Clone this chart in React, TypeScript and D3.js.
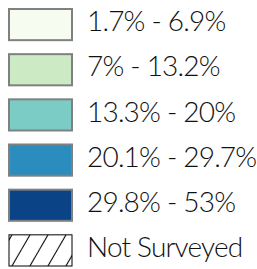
import React, { useEffect, useRef } from 'react';
import * as d3 from 'd3';

const labels = ['1.7% - 6.9%', '7% - 13.2%', '13.3% - 20%', '20.1% - 29.7%', '29.8% - 53%', 'Not Surveyed'];
const colors = ['#f7fcf0', '#ccebc5', '#7bccc4', '#2b8cbe', '#0b4387', 'url(#hatch)'];

const Legend = () => {
  const svgRef = useRef<SVGSVGElement>(null);

  useEffect(() => {
    const width = 257;
    const height = 269;
    const svg = d3.select(svgRef.current).attr('width', width).attr('height', height);
    svg.selectAll('*').remove();

    // hatch pattern for "Not Surveyed"
    const pat = svg.append('defs').append('pattern')
      .attr('id', 'hatch')
      .attr('patternUnits', 'userSpaceOnUse')
      .attr('width', 18)
      .attr('height', 31)
      .attr('x', 3)
      .attr('y', 0);
    pat.append('rect').attr('width', 18).attr('height', 31).attr('fill', '#fff');
    pat.append('line')
      .attr('x1', -9).attr('y1', 31).attr('x2', 9).attr('y2', 0)
      .attr('stroke', '#000').attr('stroke-width', 1.1);
    pat.append('line')
      .attr('x1', 9).attr('y1', 31).attr('x2', 27).attr('y2', 0)
      .attr('stroke', '#000').attr('stroke-width', 1.1);

    const y = d3.scaleBand<string>()
      .domain(labels)
      .range([9, 266])
      .paddingInner(0.31)
      .paddingOuter(0);

    const rows = svg.selectAll('g.row')
      .data(labels)
      .enter().append('g')
      .attr('class', 'row')
      .attr('transform', d => `translate(0, ${y(d)})`);

    rows.append('rect')
      .attr('x', 9)
      .attr('y', 0)
      .attr('width', 63)
      .attr('height', y.bandwidth())
      .attr('fill', (d, i) => colors[i])
      .attr('stroke', (d, i) => (i === labels.length - 1 ? '#000' : '#808080'))
      .attr('stroke-width', (d, i) => (i === labels.length - 1 ? 1 : 2));

    rows.append('text')
      .attr('x', 87)
      .attr('y', 22.3)
      .style('font-family', 'Lato, sans-serif')
      .style('font-weight', 300)
      .style('font-size', '28px')
      .style('letter-spacing', '-0.8px')
      .attr('fill', '#111')
      .text(d => d);
  }, []);

  return <svg ref={svgRef} style={{ position: 'absolute', left: 0, top: 0 }}></svg>;
};

export default function App() {
  return <Legend />;
}
